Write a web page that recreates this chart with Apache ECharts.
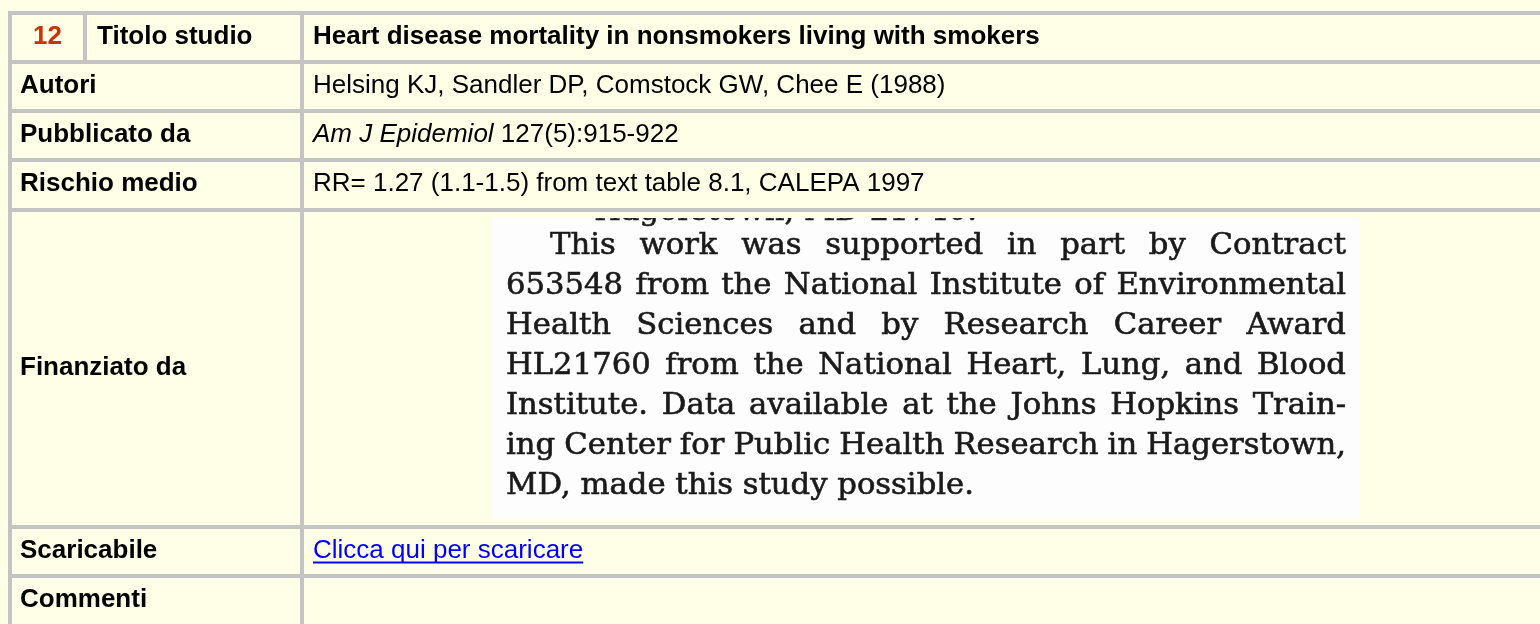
<!DOCTYPE html>
<html><head><meta charset="utf-8">
<script src="https://cdn.jsdelivr.net/npm/echarts@6.0.0/dist/echarts.min.js"></script>
<style>html,body{margin:0;padding:0;background:#FFFFE7;} #c{width:1540px;height:624px;}</style>
</head><body><div id="c"></div>
<script>
// ---- content (data) ----
const studyNumber = '12';
const headerLabel = 'Titolo studio';
const studyTitle = 'Heart disease mortality in nonsmokers living with smokers';
const rowLabels = ['Autori', 'Pubblicato da', 'Rischio medio', 'Finanziato da', 'Scaricabile', 'Commenti'];
const authors = 'Helsing KJ, Sandler DP, Comstock GW, Chee E (1988)';
const journalName = 'Am J Epidemiol';
const journalRef = '127(5):915-922';
const riskText = 'RR= 1.27 (1.1-1.5) from text table 8.1, CALEPA 1997';
const downloadText = 'Clicca qui per scaricare';
const commentText = '';
const scanFragment = 'Hagerstown, MD 21740.';
const scanLines = [
  'This work was supported in part by Contract',
  '653548 from the National Institute of Environmental',
  'Health Sciences and by Research Career Award',
  'HL21760 from the National Heart, Lung, and Blood',
  'Institute. Data available at the Johns Hopkins Train-',
  'ing Center for Public Health Research in Hagerstown,',
  'MD, made this study possible.'
];

// ---- layout / style ----
const BG = '#FFFFE7', GRID = '#C4C4C4';
const SANS = '"Liberation Sans", Arial, sans-serif';
const SERIF = '"DejaVu Serif", serif';
const FS = 26;
const rows = [[15, 60], [64, 109], [113, 158], [162, 208], [212, 525], [529, 574], [578, 623]];
const colLabel = [12, 300], colContent = [304, 1600], colNum = [12, 83], colHead = [87, 300];
const labelX = 20, contentX = 313, headX = 97;
const scanBox = {x: 492, y: 218, w: 867, h: 301};

const cvs = document.createElement('canvas').getContext('2d');
function tw(text, font) { cvs.font = font; return cvs.measureText(text).width; }

const base = [], scan = [], cover = [], texts = [];
base.push({type: 'rect', shape: {x: 8, y: 11, width: 1600, height: 700}, style: {fill: GRID}});
function cell(x0, x1, r, last) {
  const h = (last ? 700 : r[1]) - r[0];
  base.push({type: 'rect', shape: {x: x0, y: r[0], width: x1 - x0, height: h}, style: {fill: BG}});
}
cell(colNum[0], colNum[1], rows[0]);
cell(colHead[0], colHead[1], rows[0]);
cell(colContent[0], colContent[1], rows[0]);
for (let i = 1; i < rows.length; i++) {
  const last = i === rows.length - 1;
  cell(colLabel[0], colLabel[1], rows[i], last);
  cell(colContent[0], colContent[1], rows[i], last);
}

function cy(r) { return (r[0] + r[1]) / 2 - 1; }
function txt(x, y, text, opts) {
  texts.push({type: 'text', x: x, y: y, style: Object.assign({text: text, fill: '#000', font: 'bold ' + FS + 'px ' + SANS, align: 'left', verticalAlign: 'middle'}, opts || {})});
}
txt((colNum[0] + colNum[1]) / 2, cy(rows[0]), studyNumber, {fill: '#CC3300', align: 'center'});
txt(headX, cy(rows[0]), headerLabel);
txt(contentX, cy(rows[0]), studyTitle);
rowLabels.forEach((l, i) => txt(labelX, cy(rows[i + 1]), l));
const normal = FS + 'px ' + SANS, italic = 'italic ' + FS + 'px ' + SANS;
txt(contentX, cy(rows[1]), authors, {font: normal});
txt(contentX, cy(rows[2]), journalName, {font: italic});
txt(contentX + tw(journalName + ' ', italic), cy(rows[2]), journalRef, {font: normal});
txt(contentX, cy(rows[3]), riskText, {font: normal});
txt(contentX, cy(rows[5]), downloadText, {font: normal, fill: '#0000FF'});
const linkW = tw(downloadText, normal);
texts.push({type: 'rect', shape: {x: contentX, y: cy(rows[5]) + 11, width: linkW, height: 2}, style: {fill: '#0000FF'}});
txt(contentX, cy(rows[6]), commentText, {font: normal});

// scanned image
scan.push({type: 'rect', shape: {x: scanBox.x, y: scanBox.y, width: scanBox.w, height: scanBox.h}, style: {fill: '#FDFDFD'}});
const sfs = 29;
const sfont = sfs + 'px ' + SERIF;
const sx = 468 / tw(scanLines[scanLines.length - 1], sfont);
const baseOff = 0.32 * sfs;
const base0 = 256, pitch = 40, lineL = 506, lineR = 1346, indentL = 550;
const ink = {fill: '#1a1a1a', stroke: '#1a1a1a', lineWidth: 0.6, font: sfont, verticalAlign: 'middle'};
function word(x, y, t, extra) {
  scan.push({type: 'text', x: x, y: y, scaleX: sx, scaleY: 1, style: Object.assign({text: t}, ink, extra || {})});
}
scanLines.forEach((line, i) => {
  const y = base0 + i * pitch - baseOff;
  const left = i === 0 ? indentL : lineL;
  if (i === scanLines.length - 1) { word(left, y, line); return; }
  const words = line.split(' ');
  const ws = words.map(w => tw(w, sfont) * sx);
  const gap = (lineR - left - ws.reduce((a, b) => a + b, 0)) / (words.length - 1);
  let x = left;
  words.forEach((w, k) => { word(x, y, w); x += ws[k] + gap; });
});
word(977, 221.5 - baseOff, scanFragment, {align: 'right'});
cover.push({type: 'rect', shape: {x: scanBox.x, y: 196, width: scanBox.w, height: 12}, style: {fill: BG}});
cover.push({type: 'rect', shape: {x: scanBox.x, y: 208, width: scanBox.w, height: 4}, style: {fill: GRID}});
cover.push({type: 'rect', shape: {x: scanBox.x, y: 212, width: scanBox.w, height: 6}, style: {fill: BG}});

const els = [];
[base, scan, cover, texts].forEach((g, gi) => g.forEach(e => { e.z = gi; e.z2 = gi; els.push(e); }));

const chart = echarts.init(document.getElementById('c'), null, {renderer: 'canvas'});
chart.setOption({backgroundColor: BG, animation: false, graphic: {elements: els}});
</script></body></html>
